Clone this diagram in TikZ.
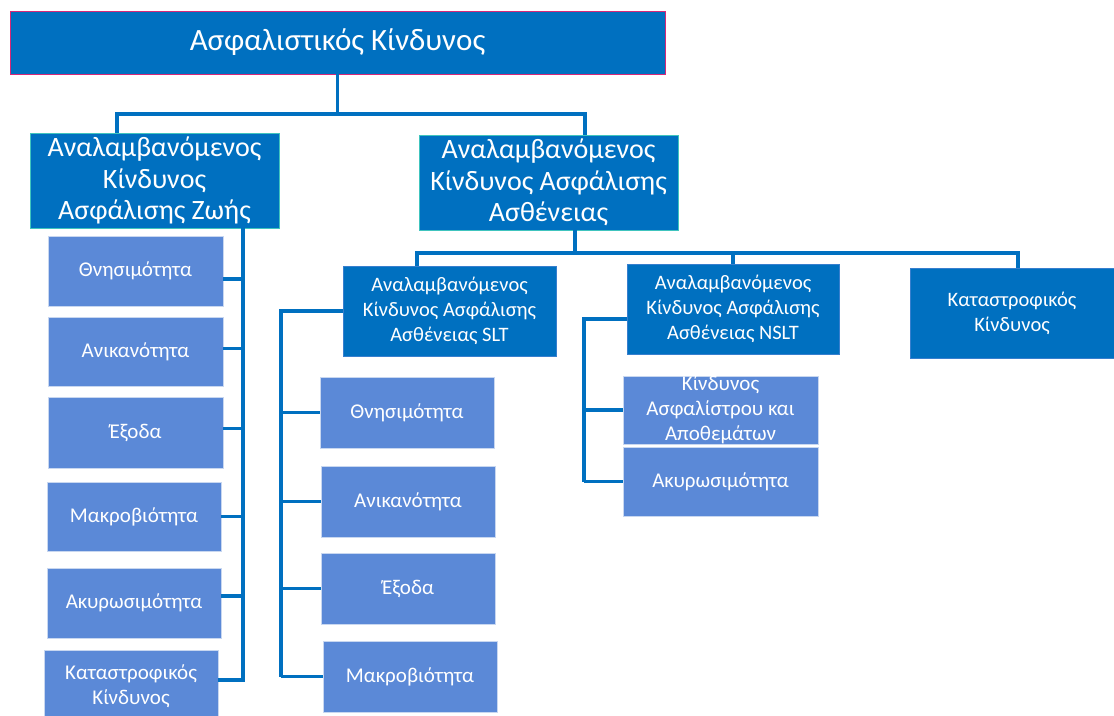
\documentclass[tikz,border=0pt]{standalone}
\usepackage{fontspec}
\setmainfont{Carlito}
\usetikzlibrary{calc}
\definecolor{dblue}{RGB}{0,112,192}
\definecolor{lblue}{RGB}{91,137,215}
\definecolor{rootedge}{RGB}{214,40,120}
\definecolor{tealedge}{RGB}{64,196,190}
\definecolor{paleedge}{RGB}{200,215,240}
\tikzset{
  box/.style={draw=dblue, fill=dblue, text=white, align=center, inner sep=0pt, line width=0.8pt},
  lbox/.style={draw=paleedge, fill=lblue, text=white, align=center, inner sep=0pt, line width=0.6pt, font=\fontsize{21}{25}\selectfont},
  conn/.style={draw=dblue, line width=3.5pt}
}
\newcommand{\bx}[7]{%
  \node[#6, minimum width={(#4)-(#2)}, minimum height={(#5)-(#3)}] (#1) at ({((#2)+(#4))/2},{((#3)+(#5))/2}) {#7};}
\begin{document}
\begin{tikzpicture}[x=1pt,y=-1pt]
\useasboundingbox (0,0) rectangle (1114,715);
\clip (0,0) rectangle (1114,715);
\fill[white] (0,0) rectangle (1114,715);
% level 0 and 1
\bx{root}{10}{11}{665}{74}{box, draw=rootedge, font=\fontsize{31}{34}\selectfont}{Ασφαλιστικός Κίνδυνος}
\bx{life}{30}{133}{279}{228}{box, draw=tealedge, font=\fontsize{28}{31.5}\selectfont}{Αναλαμβανόμενος\\Κίνδυνος\\Ασφάλισης Ζωής}
\bx{health}{419}{135}{678}{230}{box, draw=tealedge, font=\fontsize{28}{31.5}\selectfont}{Αναλαμβανόμενος\\Κίνδυνος Ασφάλισης\\Ασθένειας}
% level 2
\bx{slt}{343}{266}{556}{356}{box, draw=lblue!60!dblue, font=\fontsize{20.5}{25}\selectfont}{Αναλαμβανόμενος\\Κίνδυνος Ασφάλισης\\Ασθένειας SLT}
\bx{nslt}{627}{264}{839}{354}{box, draw=lblue!60!dblue, font=\fontsize{20.5}{25}\selectfont}{Αναλαμβανόμενος\\Κίνδυνος Ασφάλισης\\Ασθένειας NSLT}
\bx{cat}{910}{268}{1114}{358}{box, draw=lblue!60!dblue, font=\fontsize{20.5}{25}\selectfont}{Καταστροφικός\\Κίνδυνος}
% life children
\bx{l1}{48}{236}{223}{306}{lbox}{Θνησιμότητα}
\bx{l2}{48}{317}{223}{386}{lbox}{Ανικανότητα}
\bx{l3}{48}{397}{223}{468}{lbox}{Έξοδα}
\bx{l4}{47}{482}{221}{551}{lbox}{Μακροβιότητα}
\bx{l5}{47}{568}{221}{638}{lbox}{Ακυρωσιμότητα}
\bx{l6}{44}{650}{218}{722}{lbox}{Καταστροφικός\\Κίνδυνος}
% SLT children
\bx{s1}{320}{377}{494}{448}{lbox}{Θνησιμότητα}
\bx{s2}{321}{466}{495}{537}{lbox}{Ανικανότητα}
\bx{s3}{321}{553}{495}{624}{lbox}{Έξοδα}
\bx{s4}{323}{641}{497}{712}{lbox}{Μακροβιότητα}
% NSLT children
\bx{n1}{623}{376}{818}{444}{lbox}{Κίνδυνος\\Ασφαλίστρου και\\Αποθεμάτων}
\bx{n2}{623}{447}{818}{516}{lbox}{Ακυρωσιμότητα}
% connectors level 0-1
\coordinate (h1) at (0,114);
\coordinate (ld) at ($(life.north)+(-37.5,0)$);
\coordinate (hd) at ($(health.north)+(36.5,0)$);
\draw[conn] (root.south) -- (root.south |- h1);
\draw[conn] (ld) |- (hd |- h1) -- (hd);
% life spine
\coordinate (lv) at ($(life.south)+(88.5,0)$);
\coordinate (lvend) at (lv |- 0,682);
\draw[conn] (lv) -- (lvend);
\foreach \c/\s in {l1/-8, l2/3, l3/4, l4/0, l5/7, l6/6}{
  \draw[conn] ([yshift=\s pt]\c.east) -- ([yshift=\s pt]\c.east -| lv);
}
% health level 2
\coordinate (h2) at (0,253);
\coordinate (hb) at ($(health.south)+(26.5,0)$);
\coordinate (sd) at ($(slt.north)+(-32.5,0)$);
\coordinate (cd) at ($(cat.north)+(6,0)$);
\draw[conn] (hb) -- (hb |- h2);
\draw[conn] (sd) |- (cd |- h2) -- (cd);
\draw[conn] (nslt.north) -- (nslt.north |- h2);
% SLT spine
\coordinate (sv) at (281,0);
\draw[conn] (slt.west) -- (slt.west -| sv) -- (sv |- s4.west);
\foreach \c in {s1,s2,s3,s4}{
  \draw[conn] (\c.west) -- (\c.west -| sv);
}
% NSLT spine
\coordinate (nv) at (584,0);
\coordinate (nw) at ([yshift=-10pt]nslt.west);
\draw[conn] (nw) -- (nw -| nv) -- (nv |- n2.west);
\foreach \c in {n1,n2}{
  \draw[conn] (\c.west) -- (\c.west -| nv);
}
\end{tikzpicture}
\end{document}
